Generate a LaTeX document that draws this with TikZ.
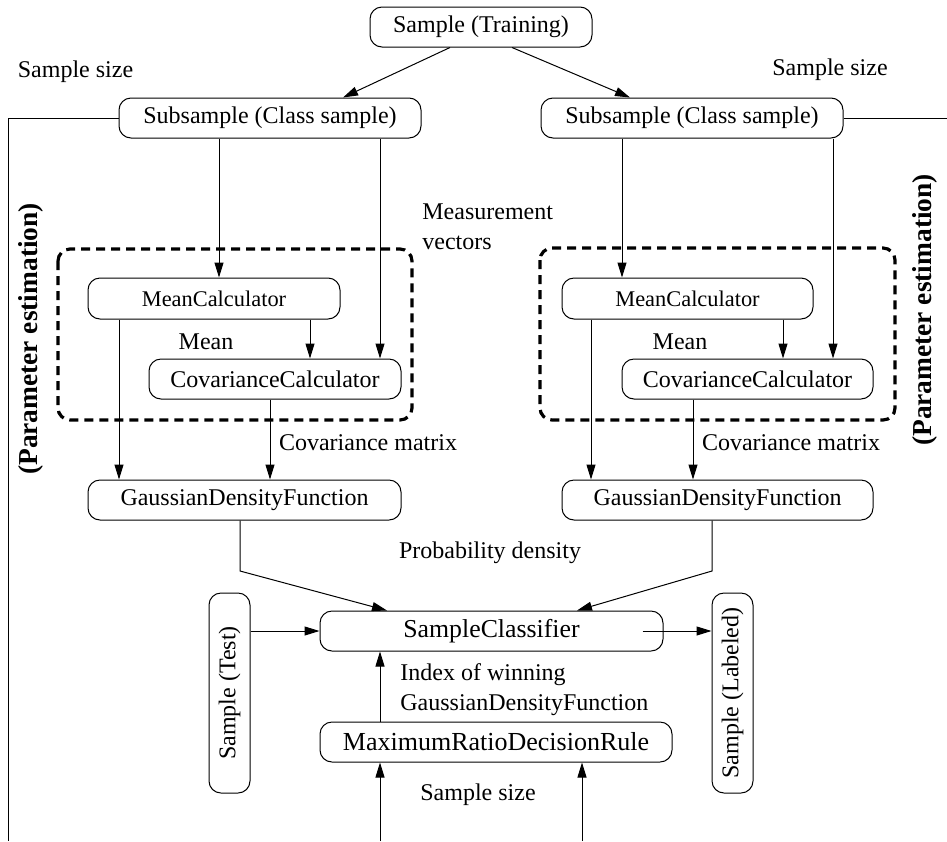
\documentclass[tikz,border=0pt]{standalone}
\usepackage{fontspec}
\setmainfont{Liberation Serif}
\usetikzlibrary{arrows.meta,calc}
\begin{document}
\begin{tikzpicture}[x=0.5pt,y=-0.5pt,
  every node/.style={font=\fontsize{12}{15}\selectfont},
  box/.style={draw,rounded corners=6pt,inner sep=0pt,line width=0.5pt},
  vbox/.style={box,minimum width=20.5pt,minimum height=100pt},
  lbl/.style={inner sep=0pt},
  arr/.style={-{Triangle[length=7.5pt,width=4.5pt]},line width=0.5pt},
  ln/.style={line width=0.5pt},
  dbox/.style={dashed,line width=1.6pt,dash pattern=on 4.5pt off 3pt,rounded corners=6pt},
  pe/.style={lbl,rotate=90,font=\fontsize{13.7}{16}\selectfont\bfseries}
]
\useasboundingbox (0,0) rectangle (947,841);
% nodes
\node[box,minimum width=111pt,minimum height=20pt] (train) at (481,27) {Sample (Training)};
\node[box,minimum width=151pt,minimum height=20pt] (subL) at (270,118) {Subsample (Class sample)};
\node[box,minimum width=151pt,minimum height=20pt] (subR) at (692,118) {Subsample (Class sample)};
\node[box,minimum width=126pt,minimum height=20.5pt,font=\fontsize{11.2}{14}\selectfont] (meanL) at (214,298.5) {MeanCalculator};
\node[box,minimum width=126pt,minimum height=20pt] (covL) at (275,379) {CovarianceCalculator};
\node[box,minimum width=156.5pt,minimum height=20pt] (gaussL) at (244.5,500) {GaussianDensityFunction};
\node[box,minimum width=125.5pt,minimum height=20.5pt,font=\fontsize{11.2}{14}\selectfont] (meanR) at (687.5,298.5) {MeanCalculator};
\node[box,minimum width=125.5pt,minimum height=20pt] (covR) at (747.5,379) {CovarianceCalculator};
\node[box,minimum width=155.5pt,minimum height=20pt] (gaussR) at (717.5,500) {GaussianDensityFunction};
\node[box,minimum width=171.5pt,minimum height=20pt,font=\fontsize{12.9}{15}\selectfont] (classifier) at (491.5,631) {SampleClassifier};
\node[box,minimum width=176pt,minimum height=20pt,font=\fontsize{13}{15}\selectfont] (maxrule) at (496,742) {MaximumRatioDecisionRule};
\node[vbox] (test) at (229.5,693) {};
\node[lbl,rotate=90] (testtxt) at (test.center) {Sample (Test)};
\node[vbox] (labeled) at (732.5,693) {};
\node[lbl,rotate=90] (labtxt) at (labeled.center) {Sample (Labeled)};
% dashed groups
\draw[dbox] (58,249) rectangle (412,420);
\draw[dbox] (540,248) rectangle (895,420);
% labels
\node[lbl] (ssL) at (75.5,72) {Sample size};
\node[lbl] (ssR) at (830,70) {Sample size};
\node[lbl,anchor=west,align=left] (mv) at (422,227) {Measurement\\vectors};
\node[lbl] (meanlL) at (206,342) {Mean};
\node[lbl] (meanlR) at (680,342) {Mean};
\node[lbl] (cmL) at (368,443) {Covariance matrix};
\node[lbl] (cmR) at (791,443) {Covariance matrix};
\node[lbl] (pd) at (490,553) {Probability density};
\node[lbl,anchor=west,align=left] (idx) at (400,690) {Index of winning\\GaussianDensityFunction};
\node[lbl] (ssB) at (478,795) {Sample size};
\node[pe] (peL) at (31,339) {(Parameter estimation)};
\node[pe] (peR) at (925,310) {(Parameter estimation)};
% helper coordinates
\coordinate (xa) at (219,0);
\coordinate (xb) at (380,0);
\coordinate (xc) at (310,0);
\coordinate (xd) at (119,0);
\coordinate (xe) at (270,0);
\coordinate (xf) at (622,0);
\coordinate (xg) at (833,0);
\coordinate (xh) at (783,0);
\coordinate (xi) at (591,0);
\coordinate (xj) at (693,0);
\coordinate (xk) at (240,0);
\coordinate (xl) at (712,0);
\coordinate (xm) at (387,0);
\coordinate (xn) at (577,0);
\coordinate (xo) at (582,0);
\coordinate (bendL) at (240,571);
\coordinate (bendR) at (712,571);
\coordinate (botA) at (380,841);
\coordinate (botB) at (582,841);
\coordinate (leftTop) at (8,118);
\coordinate (leftBot) at (8,841);
\coordinate (rightEnd) at (947,118);
% connectors
\draw[arr] ($(train.south)+(-31,0)$) -- ($(subL.north)+(73,0)$);
\draw[arr] ($(train.south)+(31,0)$) -- ($(subR.north)+(-62,0)$);
\draw[ln] (subL.west) -- (leftTop) -- (leftBot);
\draw[ln] (subR.east) -- (rightEnd);
\draw[arr] (subL.south -| xa) -- (meanL.north -| xa);
\draw[arr] (subL.south -| xb) -- (covL.north -| xb);
\draw[arr] (meanL.south -| xc) -- (covL.north -| xc);
\draw[arr] (meanL.south -| xd) -- (gaussL.north -| xd);
\draw[arr] (covL.south -| xe) -- (gaussL.north -| xe);
\draw[arr] (subR.south -| xf) -- (meanR.north -| xf);
\draw[arr] (subR.south -| xg) -- (covR.north -| xg);
\draw[arr] (meanR.south -| xh) -- (covR.north -| xh);
\draw[arr] (meanR.south -| xi) -- (gaussR.north -| xi);
\draw[arr] (covR.south -| xj) -- (gaussR.north -| xj);
\draw[arr] (gaussL.south -| xk) -- (bendL) -- (classifier.north -| xm);
\draw[arr] (gaussR.south -| xl) -- (bendR) -- (classifier.north -| xn);
\draw[arr] (classifier.west -| test.east) -- (classifier.west);
\draw[arr] ($(classifier.east)+(-21,0)$) -- (classifier.east -| labeled.west);
\draw[arr] (maxrule.north -| xb) -- (classifier.south -| xb);
\draw[arr] (botA) -- (maxrule.south -| botA);
\draw[arr] (botB) -- (maxrule.south -| botB);
\end{tikzpicture}
\end{document}
